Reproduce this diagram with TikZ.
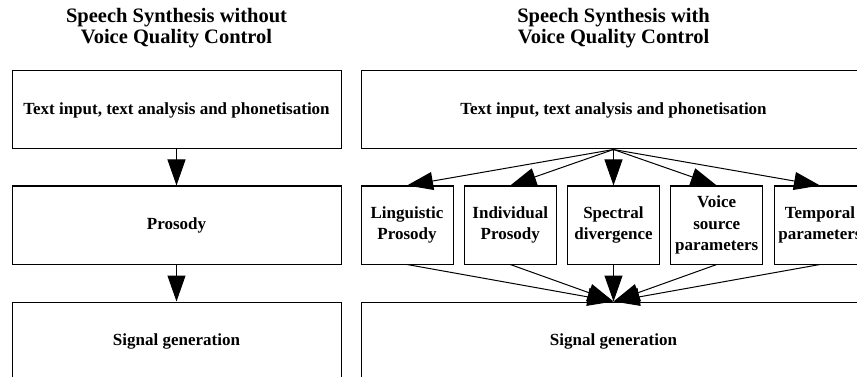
\documentclass[tikz,border=0pt]{standalone}
\usepackage{fontspec}
\setmainfont{Liberation Serif}
\usetikzlibrary{arrows.meta}
\begin{document}
\begin{tikzpicture}[x=1pt,y=-1pt,
  boxbase/.style={draw, line width=1pt, inner sep=0pt, align=center,
    font=\fontsize{17}{21.5}\selectfont\bfseries},
  wide/.style={boxbase, minimum width=329pt, minimum height=78pt},
  wider/.style={boxbase, minimum width=505pt, minimum height=78pt},
  small/.style={boxbase, minimum width=92pt, minimum height=78pt},
  heading/.style={align=center, inner sep=0pt, font=\fontsize{20.5}{21}\selectfont\bfseries},
  arr/.style={-{Triangle[length=26pt,width=18pt]}, line width=1pt}]
\useasboundingbox (0,0) rectangle (857,377);
\clip (0,0) rectangle (857,377);
% titles
\node[heading] (h1) at (176.5,28) {Speech Synthesis without\\Voice Quality Control};
\node[heading] (h2) at (613.5,28) {Speech Synthesis with\\Voice Quality Control};
% left column
\node[wide] (t1) at (176.5,110) {Text input, text analysis and phonetisation};
\node[wide] (p1) at (176.5,225) {Prosody};
\node[wide] (s1) at (176.5,341) {Signal generation};
\draw[arr] (t1.south) -- (p1.north);
\draw[arr] (p1.south) -- (s1.north);
% right column
\node[wider] (t2) at (613.5,110) {Text input, text analysis and phonetisation};
\node[small] (m1) at (407,225) {Linguistic\\Prosody};
\node[small] (m2) at (510.25,225) {Individual\\Prosody};
\node[small] (m3) at (613.5,225) {Spectral\\divergence};
\node[small] (m4) at (716.75,225) {Voice\\source\\parameters};
\node[small] (m5) at (820,225) {Temporal\\parameters};
\node[wider] (s2) at (613.5,341) {Signal generation};
\foreach \m in {m1,m2,m3,m4,m5}{
  \draw[arr] (t2.south) -- (\m.north);
  \draw[arr] (\m.south) -- (s2.north);
}
\end{tikzpicture}
\end{document}
